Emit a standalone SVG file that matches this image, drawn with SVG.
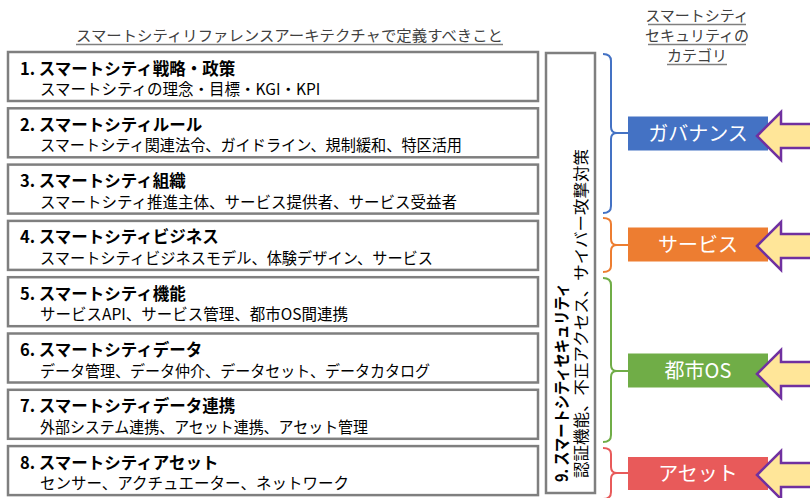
<svg xmlns="http://www.w3.org/2000/svg" width="810" height="498" viewBox="0 0 810 498">
<style>
text{font-family:"Noto Sans CJK JP","Noto Sans",sans-serif;}
.box{fill:#fff;stroke:#7f7f7f;stroke-width:2.5;}
.t{font-size:16.5px;font-weight:bold;fill:#000;}
.s{font-size:15.5px;fill:#000;}
.h{font-size:15px;fill:#404040;}
.ul{stroke:#7f7f7f;stroke-width:1.3;}
.cat{font-size:20px;fill:#fff;text-anchor:middle;}
.arrow{fill:#FFE699;stroke:#7030A0;stroke-width:2.5;stroke-linejoin:miter;}
.br{fill:none;stroke-width:2;}
</style>
<g id="header">
<text class="h" x="289.5" y="41" text-anchor="middle" textLength="427" lengthAdjust="spacingAndGlyphs">スマートシティリファレンスアーキテクチャで定義すべきこと</text>
<line class="ul" x1="76" y1="44.5" x2="503" y2="44.5"/>
<text class="h" x="697" y="21" text-anchor="middle">スマートシティ</text>
<line class="ul" x1="648" y1="24.5" x2="746" y2="24.5"/>
<text class="h" x="697" y="41" text-anchor="middle">セキュリティの</text>
<line class="ul" x1="648" y1="44.5" x2="746" y2="44.5"/>
<text class="h" x="697" y="61" text-anchor="middle">カテゴリ</text>
<line class="ul" x1="667" y1="64.5" x2="727" y2="64.5"/>
</g>
<g id="row1"><rect class="box" x="8" y="52" width="530" height="49"/>
<text class="t" x="20" y="74.5">1. スマートシティ戦略・政策</text>
<text class="s" x="40" y="95">スマートシティの理念・目標・KGI・KPI</text></g>
<g id="row2"><rect class="box" x="8" y="108.3" width="530" height="49"/>
<text class="t" x="20" y="130.8">2. スマートシティルール</text>
<text class="s" x="40" y="151.3" textLength="422" lengthAdjust="spacingAndGlyphs">スマートシティ関連法令、ガイドライン、規制緩和、特区活用</text></g>
<g id="row3"><rect class="box" x="8" y="164.6" width="530" height="49"/>
<text class="t" x="20" y="187.1">3. スマートシティ組織</text>
<text class="s" x="40" y="207.6">スマートシティ推進主体、サービス提供者、サービス受益者</text></g>
<g id="row4"><rect class="box" x="8" y="220.9" width="530" height="49"/>
<text class="t" x="20" y="243.4">4. スマートシティビジネス</text>
<text class="s" x="40" y="263.9" textLength="393" lengthAdjust="spacingAndGlyphs">スマートシティビジネスモデル、体験デザイン、サービス</text></g>
<g id="row5"><rect class="box" x="8" y="277.2" width="530" height="49"/>
<text class="t" x="20" y="299.7">5. スマートシティ機能</text>
<text class="s" x="40" y="320.2">サービスAPI、サービス管理、都市OS間連携</text></g>
<g id="row6"><rect class="box" x="8" y="333.5" width="530" height="49"/>
<text class="t" x="20" y="356">6. スマートシティデータ</text>
<text class="s" x="40" y="376.5" textLength="390" lengthAdjust="spacingAndGlyphs">データ管理、データ仲介、データセット、データカタログ</text></g>
<g id="row7"><rect class="box" x="8" y="389.8" width="530" height="49"/>
<text class="t" x="20" y="412.3">7. スマートシティデータ連携</text>
<text class="s" x="40" y="432.8" textLength="328" lengthAdjust="spacingAndGlyphs">外部システム連携、アセット連携、アセット管理</text></g>
<g id="row8"><rect class="box" x="8" y="446.1" width="530" height="49"/>
<text class="t" x="20" y="468.6">8. スマートシティアセット</text>
<text class="s" x="40" y="489.1">センサー、アクチュエーター、ネットワーク</text></g>
<g id="row9"><rect class="box" x="546" y="53" width="49" height="440"/>
<text class="t" transform="translate(567.5,482) rotate(-90)" textLength="199" lengthAdjust="spacingAndGlyphs">9. スマートシティセキュリティ</text>
<text class="s" transform="translate(586.5,478) rotate(-90)" textLength="329" lengthAdjust="spacingAndGlyphs">認証機能、不正アクセス、サイバー攻撃対策</text></g>
<g id="connectors">
<path class="br" stroke="#4472C4" d="M603,54 Q611,54 611,61 L611,127 Q611,133 617,133 L628,133 M617,133 Q611,133 611,139 L611,206 Q611,213 603,213"/>
<path class="br" stroke="#ED7D31" d="M603,218 Q611,218 611,224 L611,239 Q611,245 617,245 L628,245 M617,245 Q611,245 611,251 L611,266 Q611,272 603,272"/>
<path class="br" stroke="#70AD47" d="M603,278 Q611,278 611,285 L611,365 Q611,371 617,371 L628,371 M617,371 Q611,371 611,377 L611,435 Q611,442 603,442"/>
<path class="br" stroke="#E85A5A" d="M603,448 Q611,448 611,454 L611,467 Q611,473 617,473 L628,473 M617,473 Q611,473 611,479 L611,492 Q611,499 603,499"/>
</g>
<g id="governance"><rect x="628" y="116.5" width="140" height="34" fill="#4472C4"/><text class="cat" x="698" y="140.5">ガバナンス</text></g>
<g id="service"><rect x="628" y="227.5" width="140" height="34" fill="#ED7D31"/><text class="cat" x="698" y="251.5">サービス</text></g>
<g id="cityos"><rect x="628" y="353.5" width="140" height="34" fill="#70AD47"/><text class="cat" x="698" y="377.5">都市OS</text></g>
<g id="asset"><rect x="628" y="457" width="140" height="33" fill="#E85A5A"/><text class="cat" x="698" y="480.5">アセット</text></g>
<g id="arrows">
<path class="arrow" d="M757,136 L781,112 L781,124 L813,124 L813,148 L781,148 L781,160 Z"/>
<path class="arrow" d="M757,246 L781,222 L781,234 L813,234 L813,258 L781,258 L781,270 Z"/>
<path class="arrow" d="M757,374 L781,350 L781,362 L813,362 L813,386 L781,386 L781,398 Z"/>
<path class="arrow" d="M757,475 L781,451 L781,463 L813,463 L813,487 L781,487 L781,499 Z"/>
</g>
</svg>
